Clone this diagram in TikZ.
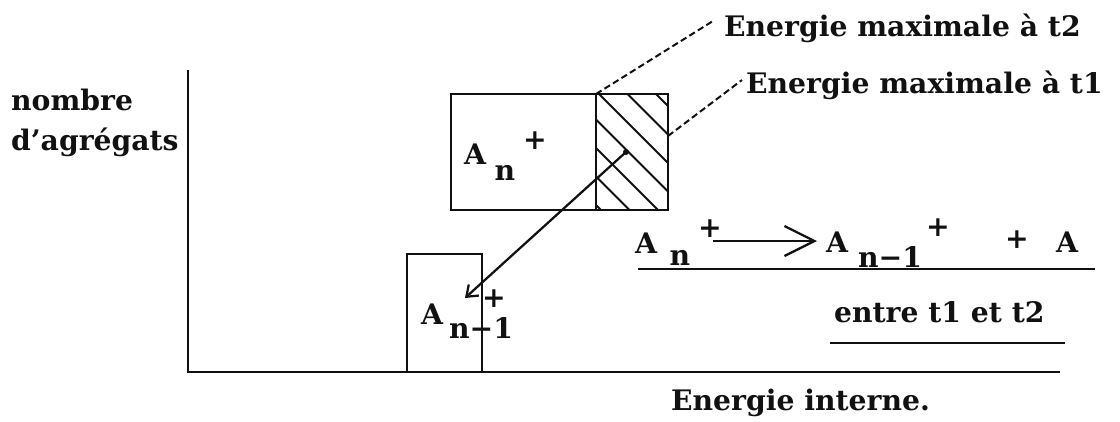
\documentclass[tikz,border=0pt]{standalone}
\usepackage{fontspec}
\setmainfont{DejaVu Serif}
\usetikzlibrary{arrows.meta,calc}
\definecolor{cInk}{HTML}{111111}
\tikzset{
  every picture/.style={line width=0.9pt},
  frame/.style={draw=cInk, line width=0.95pt},
  hatch/.style={draw=cInk, line width=0.8pt},
  leader/.style={draw=cInk, line width=0.8pt, dash pattern=on 2.6pt off 1.4pt},
  txt/.style={font=\fontsize{11.3}{13}\selectfont\bfseries, text=cInk, inner sep=0pt},
  lw/.style={txt, anchor=base west},
  ch/.style={txt, anchor=base},
  sg/.style={txt, anchor=center},
  decay/.style={-{Straight Barb[length=4pt,width=6pt]}, draw=cInk, line width=0.9pt},
  react/.style={-{Straight Barb[length=12pt,width=12pt]}, draw=cInk, line width=0.9pt},
}

\begin{document}
\begin{tikzpicture}[x=0.4pt,y=-0.4pt]
\useasboundingbox (0,0) rectangle (1120,421);

% ---------------------------------------------------------------- axes
\coordinate (ytop) at (188,70);
\coordinate (orig) at (188,372);
\coordinate (xend) at (1060,372);
\draw[frame] (ytop) -- (orig) -- (xend);
\node[lw] (ylab1) at (10,110) {nombre};
\node[lw] (ylab2) at (10,150) {d’agrégats};
\node[lw] (xlab) at (670,410) {Energie interne.};

% ---------------------------------------------------------------- clusters of size n
\coordinate (bigNW) at (451,94);
\coordinate (bigSE) at (668,210);
\coordinate (cutN) at (596,94);
\coordinate (cutS) at (596,210);
\begin{scope}
  \clip (cutN) rectangle (bigSE);
  \foreach \xa in {485,513.5,...,660}
    \draw[hatch] (\xa,94) -- ++(160,160);
\end{scope}
\draw[frame] (bigNW) rectangle (bigSE);
\draw[frame] (cutN) -- (cutS);
\node[ch] (bA) at (475,164) {A};
\node[ch] (bn) at (505,180) {n};
\node[sg] (bp) at (535,141) {+};

% ---------------------------------------------------------------- clusters of size n-1
\coordinate (smNW) at (407,254);
\coordinate (smSE) at (482,372);
\draw[frame] (smNW) rectangle (smSE);
\node[ch] (sA) at (432,324) {A};
\node[ch] (sn) at (481,338) {n−1};
\node[sg] (sp) at (494,299) {+};

\coordinate (hot) at (626,152);
\coordinate (land) at (465,298);
\fill[cInk] (hot) circle[radius=1.2pt];
\draw[decay] (hot) -- (land);

% ---------------------------------------------------------------- leaders
\node[lw] (tmax2) at (723,36) {Energie maximale à t2};
\node[lw] (tmax1) at (745,93) {Energie maximale à t1};
\coordinate (edge1) at (668,136);
\coordinate (end2) at (713,21);
\coordinate (end1) at (742,80);
\draw[leader] (cutN) -- (end2);
\draw[leader] (edge1) -- (end1);

% ---------------------------------------------------------------- reaction
\node[ch] (rA) at (646,253) {A};
\node[ch] (rn) at (680,265) {n};
\node[sg] (rp) at (710,229) {+};
\coordinate (rtail) at (713,241);
\coordinate (rhead) at (817,241);
\draw[react] (rtail) -- (rhead);
\node[ch] (pA) at (837,252) {A};
\node[ch] (pn) at (890,267) {n−1};
\node[sg] (pp) at (938,228) {+};
\node[sg] (plus) at (1017,240) {+};
\node[ch] (atom) at (1067,252) {A};
\coordinate (ul1a) at (638,269);
\coordinate (ul1b) at (1095,269);
\draw[frame] (ul1a) -- (ul1b);

\node[lw] (when) at (833,322) {entre t1 et t2};
\coordinate (ul2a) at (830,343);
\coordinate (ul2b) at (1065,343);
\draw[frame] (ul2a) -- (ul2b);

\end{tikzpicture}
\end{document}
